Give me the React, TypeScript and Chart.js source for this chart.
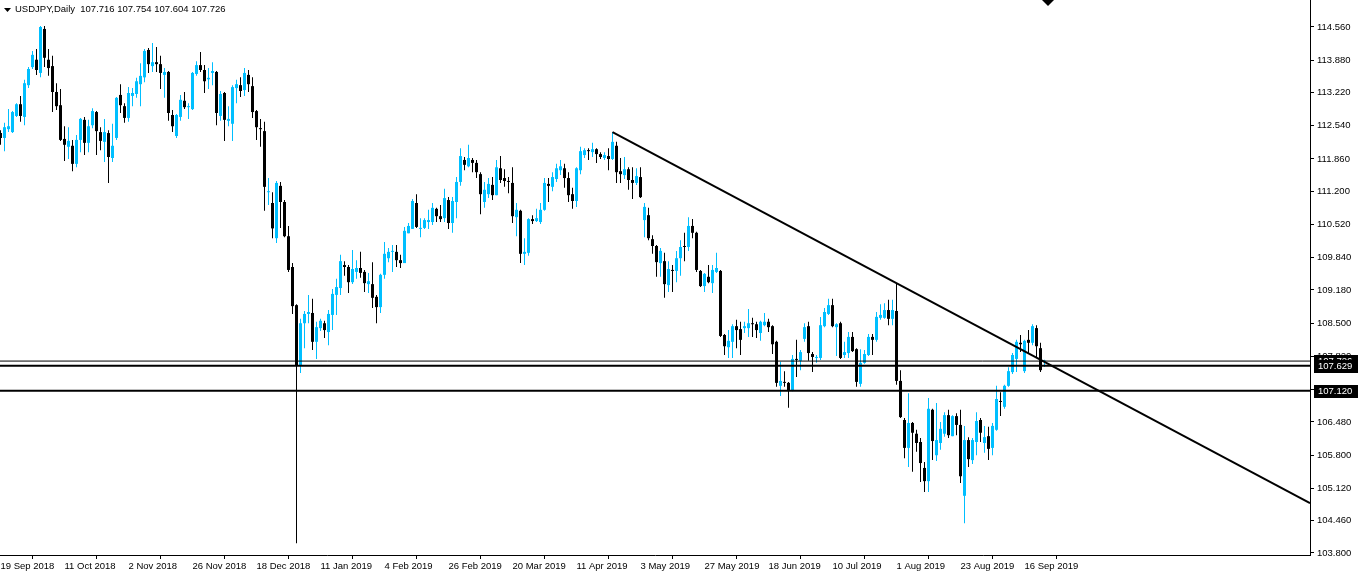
import React, { useEffect, useRef } from 'react';
import { Chart, registerables } from 'chart.js';

Chart.register(...registerables);

// ---- Data (USDJPY daily candles) ----
const opens = [
  112.39, 112.29, 112.47, 112.41, 112.74, 112.98, 112.72, 113.37, 113.74, 113.89,
  113.62, 114.52, 113.89, 113.76, 113.23, 112.96, 112.27, 112.11, 112.13, 111.76,
  112.25, 112.66, 112.19, 112.55, 112.82, 112.41, 112.21, 112.39, 111.88, 112.29,
  113.17, 112.94, 112.70, 113.15, 113.19, 113.39, 113.53, 114.09, 113.76, 113.84,
  113.80, 113.58, 113.64, 112.76, 112.33, 112.72, 113.05, 112.92, 112.88, 113.60,
  113.78, 113.68, 113.49, 113.62, 113.64, 112.74, 113.21, 112.64, 112.58, 113.31,
  113.37, 113.27, 113.58, 113.35, 112.84, 112.49, 112.43, 111.18, 110.96, 110.24,
  111.31, 110.98, 110.28, 109.65, 108.87, 107.64, 108.50, 108.69, 108.71, 108.12,
  108.40, 108.50, 108.32, 108.67, 109.08, 109.22, 109.69, 109.65, 109.34, 109.55,
  109.63, 109.55, 109.30, 109.30, 109.04, 108.83, 109.49, 109.83, 109.96, 109.96,
  109.79, 109.73, 110.34, 110.43, 110.96, 110.43, 110.45, 110.57, 110.57, 110.84,
  110.69, 110.65, 111.02, 110.55, 110.98, 111.39, 111.84, 111.71, 111.84, 111.78,
  111.55, 110.98, 111.14, 111.33, 111.12, 111.67, 111.47, 111.41, 111.37, 110.67,
  110.80, 109.92, 109.94, 110.63, 110.59, 110.57, 110.82, 111.35, 111.29, 111.45,
  111.63, 111.67, 111.47, 111.14, 111.00, 111.63, 111.94, 112.04, 112.00, 112.06,
  111.96, 111.88, 111.92, 111.86, 112.13, 111.61, 111.53, 111.65, 111.43, 111.37,
  111.49, 110.61, 110.71, 110.22, 110.08, 109.73, 109.77, 109.28, 109.59, 109.57,
  109.83, 110.08, 110.06, 110.49, 110.35, 109.57, 109.26, 109.45, 109.32, 109.55,
  109.57, 108.26, 108.01, 108.12, 108.44, 108.38, 108.40, 108.40, 108.50, 108.48,
  108.30, 108.46, 108.53, 108.44, 108.12, 107.22, 107.30, 107.28, 107.13, 107.77,
  107.73, 108.18, 108.44, 107.87, 107.79, 107.79, 108.44, 108.69, 108.87, 108.42,
  108.50, 107.85, 107.89, 108.22, 107.97, 107.26, 107.69, 107.85, 108.22, 108.16,
  108.61, 108.61, 108.77, 108.59, 108.75, 107.32, 106.52, 105.95, 106.46, 106.24,
  106.07, 105.54, 105.27, 106.73, 105.80, 106.05, 106.24, 106.62, 106.19, 106.60,
  106.42, 104.97, 106.11, 105.70, 106.07, 106.52, 106.05, 106.19, 105.95, 106.32,
  106.91, 106.79, 107.22, 107.50, 107.77, 108.10, 107.52, 108.16, 108.10, 108.40,
  107.99, 107.716
];

const highs = [
  112.45, 112.60, 112.88, 112.84, 113.00, 113.15, 113.48, 113.74, 114.07, 114.11,
  114.58, 114.58, 114.11, 113.97, 113.41, 113.29, 112.53, 112.51, 112.25, 112.35,
  112.70, 112.72, 112.66, 112.90, 112.84, 112.51, 112.68, 112.45, 112.58, 113.13,
  113.39, 113.00, 113.33, 113.31, 113.52, 113.82, 114.11, 114.13, 114.23, 114.15,
  113.97, 113.72, 113.66, 112.86, 112.78, 113.17, 113.23, 113.00, 113.64, 113.86,
  114.05, 113.78, 113.72, 113.84, 113.66, 113.25, 113.23, 112.94, 113.37, 113.48,
  113.53, 113.72, 113.68, 113.53, 112.86, 112.68, 112.62, 111.47, 111.18, 111.41,
  111.39, 111.02, 110.49, 109.73, 108.89, 108.59, 108.75, 109.08, 109.00, 108.53,
  108.59, 108.55, 108.77, 109.20, 109.41, 109.90, 109.77, 109.69, 110.00, 109.79,
  109.96, 109.59, 109.53, 109.75, 109.08, 109.51, 110.16, 110.04, 110.10, 110.10,
  109.90, 110.47, 110.55, 111.04, 111.14, 110.65, 110.65, 110.82, 110.96, 110.86,
  110.92, 111.25, 111.08, 111.08, 111.49, 112.08, 111.90, 112.15, 111.88, 111.84,
  111.59, 111.39, 111.47, 111.49, 111.84, 111.92, 111.65, 111.49, 111.69, 110.96,
  110.82, 110.24, 110.65, 110.71, 110.84, 110.96, 111.47, 111.47, 111.59, 111.76,
  111.84, 111.76, 111.59, 111.27, 111.69, 112.11, 112.08, 112.08, 112.19, 112.08,
  112.00, 112.00, 112.08, 112.41, 112.21, 111.88, 111.90, 111.69, 111.69, 111.67,
  111.69, 110.96, 110.86, 110.30, 110.10, 110.04, 109.94, 109.77, 109.69, 109.98,
  110.20, 110.35, 110.67, 110.63, 110.37, 109.59, 109.53, 109.69, 109.69, 109.94,
  109.59, 108.28, 108.36, 108.48, 108.57, 108.53, 108.53, 108.79, 108.61, 108.53,
  108.55, 108.71, 108.59, 108.46, 108.14, 107.71, 107.52, 107.30, 107.85, 108.16,
  107.95, 108.50, 108.53, 107.91, 107.85, 108.63, 108.81, 109.00, 109.00, 108.50,
  108.53, 108.12, 108.32, 108.32, 107.99, 107.97, 107.95, 108.28, 108.28, 108.73,
  108.89, 108.91, 108.98, 108.98, 109.32, 107.54, 106.56, 107.07, 106.48, 106.32,
  106.15, 105.66, 106.97, 106.75, 106.87, 106.48, 106.68, 106.73, 106.62, 106.66,
  106.73, 106.40, 106.17, 106.15, 106.68, 106.56, 106.40, 106.38, 106.46, 107.22,
  107.09, 107.24, 107.60, 107.89, 108.16, 108.26, 108.16, 108.36, 108.48, 108.46,
  108.10, 107.754
];

const lows = [
  112.15, 112.02, 112.41, 112.39, 112.72, 112.62, 112.55, 113.31, 113.70, 113.58,
  113.53, 113.74, 113.56, 112.82, 112.86, 112.23, 111.82, 111.86, 111.61, 111.69,
  112.00, 111.94, 112.00, 112.49, 111.94, 112.04, 111.80, 111.37, 111.80, 112.25,
  112.80, 112.60, 112.62, 112.94, 113.11, 112.94, 113.43, 113.62, 113.64, 113.64,
  113.29, 113.11, 112.64, 112.41, 112.29, 112.64, 112.88, 112.68, 112.86, 113.56,
  113.64, 113.21, 113.29, 113.37, 112.55, 112.64, 112.23, 112.53, 112.23, 113.00,
  113.13, 113.15, 113.23, 112.70, 112.25, 112.11, 110.80, 110.92, 110.24, 110.14,
  110.45, 110.26, 109.55, 108.69, 104.00, 107.48, 107.99, 108.50, 107.95, 107.77,
  108.34, 108.20, 108.05, 108.36, 108.67, 109.08, 109.47, 109.12, 109.30, 109.41,
  109.43, 109.14, 109.12, 108.81, 108.50, 108.71, 109.41, 109.75, 109.55, 109.65,
  109.63, 109.73, 110.34, 110.43, 110.45, 110.26, 110.43, 110.43, 110.51, 110.57,
  110.57, 110.57, 110.43, 110.35, 110.65, 111.31, 111.63, 111.69, 111.59, 111.47,
  110.73, 110.86, 111.06, 111.02, 111.12, 111.37, 111.29, 111.16, 110.55, 110.28,
  109.73, 109.69, 109.88, 110.53, 110.57, 110.53, 110.80, 110.98, 111.20, 111.39,
  111.53, 111.27, 110.98, 110.84, 110.88, 111.55, 111.88, 111.84, 111.90, 111.78,
  111.86, 111.84, 111.63, 111.84, 111.37, 111.37, 111.45, 111.23, 111.04, 111.33,
  111.06, 110.26, 110.20, 109.92, 109.45, 109.45, 109.02, 109.14, 109.14, 109.34,
  109.47, 109.77, 109.98, 110.24, 109.55, 109.24, 109.14, 109.32, 109.12, 109.53,
  108.22, 107.85, 107.79, 107.79, 107.99, 107.85, 108.30, 108.22, 108.22, 108.20,
  108.14, 108.44, 108.32, 107.87, 107.20, 107.01, 107.20, 106.77, 107.11, 107.40,
  107.54, 108.12, 107.73, 107.50, 107.69, 107.75, 108.42, 108.67, 108.42, 107.83,
  107.77, 107.79, 107.79, 107.91, 107.20, 107.20, 107.67, 107.83, 107.85, 108.12,
  108.57, 108.59, 108.46, 108.46, 107.24, 106.56, 105.74, 105.56, 105.46, 105.87,
  105.25, 105.05, 105.05, 105.70, 105.68, 105.91, 106.18, 106.15, 106.19, 106.21,
  105.23, 104.41, 105.56, 105.62, 105.80, 106.07, 105.85, 105.70, 105.80, 106.30,
  106.60, 106.75, 107.20, 107.46, 107.50, 107.91, 107.48, 107.89, 108.05, 107.81,
  107.50, 107.604
];

const closes = [
  112.29, 112.51, 112.53, 112.82, 112.98, 112.74, 113.41, 113.70, 113.99, 113.68,
  114.56, 113.93, 113.72, 113.23, 112.94, 112.25, 112.15, 112.23, 111.76, 112.25,
  112.68, 112.19, 112.53, 112.84, 112.43, 112.23, 112.41, 111.90, 112.13, 113.11,
  112.96, 112.70, 113.21, 113.21, 113.45, 113.56, 114.07, 113.80, 113.84, 113.80,
  113.62, 113.64, 112.80, 112.53, 112.76, 113.07, 112.92, 112.94, 113.62, 113.78,
  113.68, 113.45, 113.52, 113.66, 112.80, 113.19, 112.66, 112.68, 113.33, 113.39,
  113.25, 113.62, 113.39, 112.82, 112.51, 112.47, 111.29, 111.20, 110.44, 111.37,
  110.98, 110.28, 109.59, 108.85, 107.64, 108.50, 108.69, 108.73, 108.12, 108.42,
  108.55, 108.36, 108.69, 109.10, 109.24, 109.77, 109.65, 109.34, 109.61, 109.63,
  109.53, 109.32, 109.36, 109.02, 108.83, 109.49, 109.92, 109.96, 109.98, 109.79,
  109.73, 110.39, 110.49, 111.00, 110.47, 110.45, 110.61, 110.61, 110.86, 110.69,
  110.63, 111.06, 110.55, 111.00, 111.39, 111.92, 111.74, 111.88, 111.78, 111.59,
  111.14, 111.23, 111.35, 111.12, 111.69, 111.43, 111.41, 111.39, 110.69, 110.82,
  109.92, 109.96, 110.63, 110.59, 110.65, 110.82, 111.37, 111.31, 111.49, 111.67,
  111.71, 111.47, 111.12, 111.00, 111.67, 112.02, 112.04, 112.02, 112.06, 111.96,
  111.90, 111.94, 111.86, 112.21, 111.59, 111.55, 111.65, 111.43, 111.37, 111.51,
  111.08, 110.88, 110.24, 110.08, 109.75, 109.98, 109.30, 109.61, 109.57, 109.83,
  110.06, 110.06, 110.49, 110.35, 109.59, 109.26, 109.51, 109.34, 109.59, 109.63,
  108.24, 108.03, 108.14, 108.44, 108.36, 108.16, 108.44, 108.50, 108.48, 108.36,
  108.53, 108.53, 108.42, 108.07, 107.28, 107.32, 107.28, 107.13, 107.77, 107.75,
  107.91, 108.42, 107.89, 107.81, 107.81, 108.46, 108.73, 108.87, 108.44, 108.48,
  107.79, 107.91, 108.22, 107.93, 107.30, 107.69, 107.87, 108.22, 108.16, 108.63,
  108.67, 108.77, 108.59, 108.77, 107.32, 106.58, 105.95, 106.46, 106.26, 106.05,
  105.64, 105.27, 106.75, 106.09, 106.11, 106.34, 106.62, 106.21, 106.60, 106.42,
  105.37, 106.11, 105.72, 106.11, 106.50, 106.26, 106.17, 105.93, 106.40, 106.95,
  106.89, 107.22, 107.52, 107.85, 108.12, 108.07, 108.14, 108.10, 108.44, 108.03,
  107.54, 107.726
];

const dateTickBars = [0, 16, 32, 48, 64, 80, 96, 112, 128, 144, 160, 176, 192, 208, 224, 240, 256];
const dateTickLabels = [
  '19 Sep 2018', '11 Oct 2018', '2 Nov 2018', '26 Nov 2018', '18 Dec 2018',
  '11 Jan 2019', '4 Feb 2019', '26 Feb 2019', '20 Mar 2019', '11 Apr 2019',
  '3 May 2019', '27 May 2019', '18 Jun 2019', '10 Jul 2019', '1 Aug 2019',
  '23 Aug 2019', '16 Sep 2019'
];

const priceTicks = [
  114.56, 113.88, 113.22, 112.54, 111.86, 111.2, 110.52, 109.84, 109.18,
  108.5, 107.82, 107.14, 106.48, 105.8, 105.12, 104.46, 103.8
];

const bidPrice = 107.726;
const levelPrices = [107.629, 107.12];
const trendBars = [153, 327.375];
const trendPrices = [112.41, 104.82];
const headerText = 'USDJPY,Daily  107.716 107.754 107.604 107.726';

const X_MIN = -0.125;
const X_MAX = 327.375;
const Y_MIN = 103.759;
const Y_MAX = 115.112;

const BLUE = '#00BFFF';
const FONT = 'Liberation Sans';
const FONT_SIZE = 9.5;

const overlayPlugin = {
  id: 'mt4Overlay',
  afterDraw(chart: any) {
    const ctx = chart.ctx;
    const y = chart.scales.y;
    const x = chart.scales.x;
    ctx.save();
    ctx.font = `${FONT_SIZE}px "${FONT}"`;
    ctx.textBaseline = 'middle';
    ctx.textAlign = 'left';
    const boxes = [bidPrice, ...levelPrices];
    boxes.forEach((p) => {
      const py = y.getPixelForValue(p);
      ctx.fillStyle = '#000';
      ctx.fillRect(chart.chartArea.right + 4, Math.round(py) - 6, 44, 13);
      ctx.fillStyle = '#fff';
      ctx.fillText(p.toFixed(3), chart.chartArea.right + 8, Math.round(py) + 0.5);
    });
    // header
    ctx.fillStyle = '#000';
    ctx.beginPath();
    ctx.moveTo(4, 8);
    ctx.lineTo(11, 8);
    ctx.lineTo(7.5, 12);
    ctx.closePath();
    ctx.fill();
    ctx.textBaseline = 'alphabetic';
    ctx.fillText(headerText, 15, 12);
    // chart shift marker
    const sx = x.getPixelForValue(262);
    ctx.beginPath();
    ctx.moveTo(sx - 6.5, 0);
    ctx.lineTo(sx + 5.5, 0);
    ctx.lineTo(sx - 0.5, 6);
    ctx.closePath();
    ctx.fill();
    ctx.restore();
  }
};

export default function App() {
  const ref = useRef<HTMLCanvasElement | null>(null);

  useEffect(() => {
    document.body.style.margin = '0';
    const canvas = ref.current;
    if (!canvas) return;
    const idx = opens.map((_, i) => i);
    const colors = idx.map((i) => (closes[i] > opens[i] ? BLUE : '#000000'));
    const labelMap: Record<number, string> = {};
    dateTickBars.forEach((b, k) => { labelMap[b] = dateTickLabels[k]; });

    const hLine = (p: number, w: number) => ({
      type: 'line' as const,
      data: [{ x: X_MIN, y: p }, { x: X_MAX, y: p }],
      borderColor: '#000',
      borderWidth: w,
      pointRadius: 0,
      order: 0,
    });

    const chart = new Chart(canvas, {
      type: 'bar',
      data: {
        datasets: [
          {
            type: 'bar',
            data: idx.map((i) => ({ x: i, y: [lows[i], highs[i]] })) as any,
            backgroundColor: colors,
            grouped: false,
            barPercentage: 1,
            categoryPercentage: 1,
            maxBarThickness: 1,
            inflateAmount: 0,
            borderWidth: 0,
            order: 3,
          } as any,
          {
            type: 'bar',
            data: idx.map((i) => ({ x: i, y: [opens[i], closes[i]] })) as any,
            backgroundColor: colors,
            grouped: false,
            barPercentage: 1,
            categoryPercentage: 1,
            maxBarThickness: 3,
            minBarLength: 1,
            inflateAmount: 0,
            borderWidth: 0,
            order: 2,
          } as any,
          {
            type: 'line',
            data: trendBars.map((b, k) => ({ x: b, y: trendPrices[k] })),
            borderColor: '#000',
            borderWidth: 2,
            pointRadius: 0,
            order: 1,
          } as any,
          hLine(bidPrice, 1) as any,
          ...levelPrices.map((p) => hLine(p, 2) as any),
        ],
      },
      options: {
        responsive: false,
        maintainAspectRatio: false,
        animation: false,
        devicePixelRatio: 1,
        events: [],
        layout: { padding: 0 },
        plugins: { legend: { display: false }, tooltip: { enabled: false }, title: { display: false } },
        scales: {
          x: {
            type: 'linear',
            position: 'bottom',
            min: X_MIN,
            max: X_MAX,
            offset: false,
            afterBuildTicks: (s: any) => { s.ticks = dateTickBars.map((v) => ({ value: v })); },
            afterFit: (s: any) => { s.height = 23; s.paddingLeft = 0; s.paddingRight = 0; },
            ticks: {
              autoSkip: false,
              maxRotation: 0,
              minRotation: 0,
              align: 'start',
              padding: 2,
              color: '#000',
              font: { family: FONT, size: FONT_SIZE },
              callback: (v: any) => labelMap[v as number] ?? '',
            },
            grid: { drawOnChartArea: false, drawTicks: true, tickLength: 4, color: '#000' },
            border: { display: true, color: '#000', width: 1 },
          } as any,
          y: {
            type: 'linear',
            position: 'right',
            min: Y_MIN,
            max: Y_MAX,
            afterBuildTicks: (s: any) => { s.ticks = priceTicks.map((v) => ({ value: v })); },
            afterFit: (s: any) => { s.width = 48; s.paddingTop = 0; s.paddingBottom = 0; },
            ticks: {
              padding: 3,
              color: '#000',
              font: { family: FONT, size: FONT_SIZE },
              callback: (v: any) => Number(v).toFixed(3),
            },
            grid: { drawOnChartArea: false, drawTicks: true, tickLength: 4, color: '#000' },
            border: { display: true, color: '#000', width: 1 },
          } as any,
        },
      },
      plugins: [overlayPlugin],
    });
    return () => chart.destroy();
  }, []);

  return (
    <div style={{ width: 1358, height: 578, background: '#fff' }}>
      <canvas ref={ref} width={1358} height={578} style={{ display: 'block' }} />
    </div>
  );
}
